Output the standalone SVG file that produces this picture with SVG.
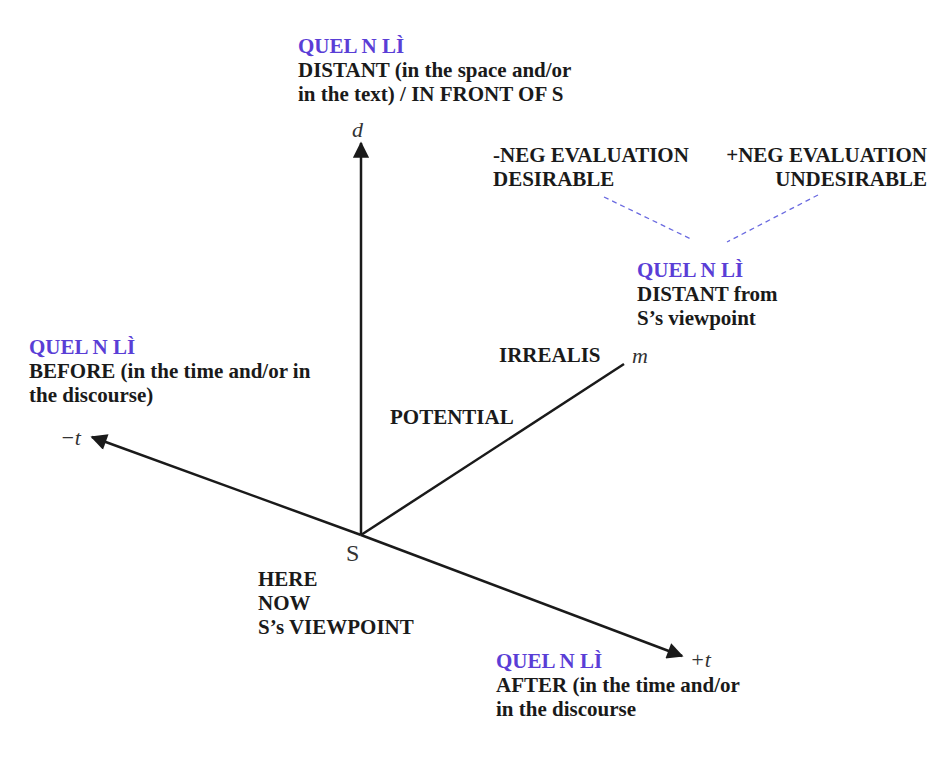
<svg xmlns="http://www.w3.org/2000/svg" width="930" height="763" viewBox="0 0 930 763">
<style>
.t{font-family:"Liberation Serif",serif;font-weight:bold;font-size:21px;fill:#1a1a1a}
.q{font-family:"Liberation Serif",serif;font-weight:bold;font-size:21px;fill:#5a3ed6}
.i{font-family:"Liberation Serif",serif;font-style:italic;font-size:22px;fill:#333}
.ax{stroke:#1a1a1a;stroke-width:2.5;fill:none}
.ds{stroke:#6a6ae0;stroke-width:1.3;stroke-dasharray:5,4;fill:none}
</style>
<defs>
<marker id="ah" viewBox="0 0 10 10" refX="9" refY="5" markerWidth="7.5" markerHeight="6.5" markerUnits="strokeWidth" orient="auto">
<path d="M0,0 L10,5 L0,10 z" fill="#1a1a1a"/>
</marker>
</defs>
<rect width="930" height="763" fill="#fff"/>
<g id="connectors">
<line class="ax" x1="361" y1="535" x2="361" y2="143" marker-end="url(#ah)"/>
<line class="ax" x1="361" y1="535" x2="92" y2="437" marker-end="url(#ah)"/>
<line class="ax" x1="361" y1="535" x2="682" y2="656" marker-end="url(#ah)"/>
<line class="ax" x1="361" y1="535" x2="624" y2="364"/>
<line class="ds" x1="604" y1="197" x2="693" y2="240"/>
<line class="ds" x1="818" y1="195" x2="727" y2="242"/>
</g>
<g id="node-top">
<text class="q" x="298" y="53">QUEL N LÌ</text>
<text class="t" x="298" y="77">DISTANT (in the space and/or</text>
<text class="t" x="298" y="101">in the text) / IN FRONT OF S</text>
</g>
<g id="node-d"><text class="i" x="352" y="137">d</text></g>
<g id="node-neg">
<text class="t" x="493" y="162">-NEG EVALUATION</text>
<text class="t" x="493" y="186">DESIRABLE</text>
</g>
<g id="node-pos">
<text class="t" x="927" y="162" text-anchor="end">+NEG EVALUATION</text>
<text class="t" x="927" y="186" text-anchor="end">UNDESIRABLE</text>
</g>
<g id="node-m-label">
<text class="q" x="637" y="277">QUEL N LÌ</text>
<text class="t" x="637" y="301">DISTANT from</text>
<text class="t" x="637" y="325">S’s viewpoint</text>
</g>
<g id="node-left">
<text class="q" x="29" y="354">QUEL N LÌ</text>
<text class="t" x="29" y="378">BEFORE (in the time and/or in</text>
<text class="t" x="29" y="402">the discourse)</text>
</g>
<g id="node-minus-t"><text class="i" x="60" y="445">−t</text></g>
<g id="node-m"><text class="i" x="632" y="363">m</text></g>
<g id="node-irrealis"><text class="t" x="499" y="362">IRREALIS</text></g>
<g id="node-potential"><text class="t" x="390" y="424">POTENTIAL</text></g>
<g id="node-s">
<text x="346" y="561" style="font-family:'Liberation Serif',serif;font-size:24px;fill:#333">S</text>
<text class="t" x="258" y="586">HERE</text>
<text class="t" x="258" y="610">NOW</text>
<text class="t" x="258" y="634">S’s VIEWPOINT</text>
</g>
<g id="node-plus-t"><text class="i" x="690" y="667">+t</text></g>
<g id="node-bottom">
<text class="q" x="496" y="668">QUEL N LÌ</text>
<text class="t" x="496" y="692">AFTER (in the time and/or</text>
<text class="t" x="496" y="716">in the discourse</text>
</g>
</svg>
